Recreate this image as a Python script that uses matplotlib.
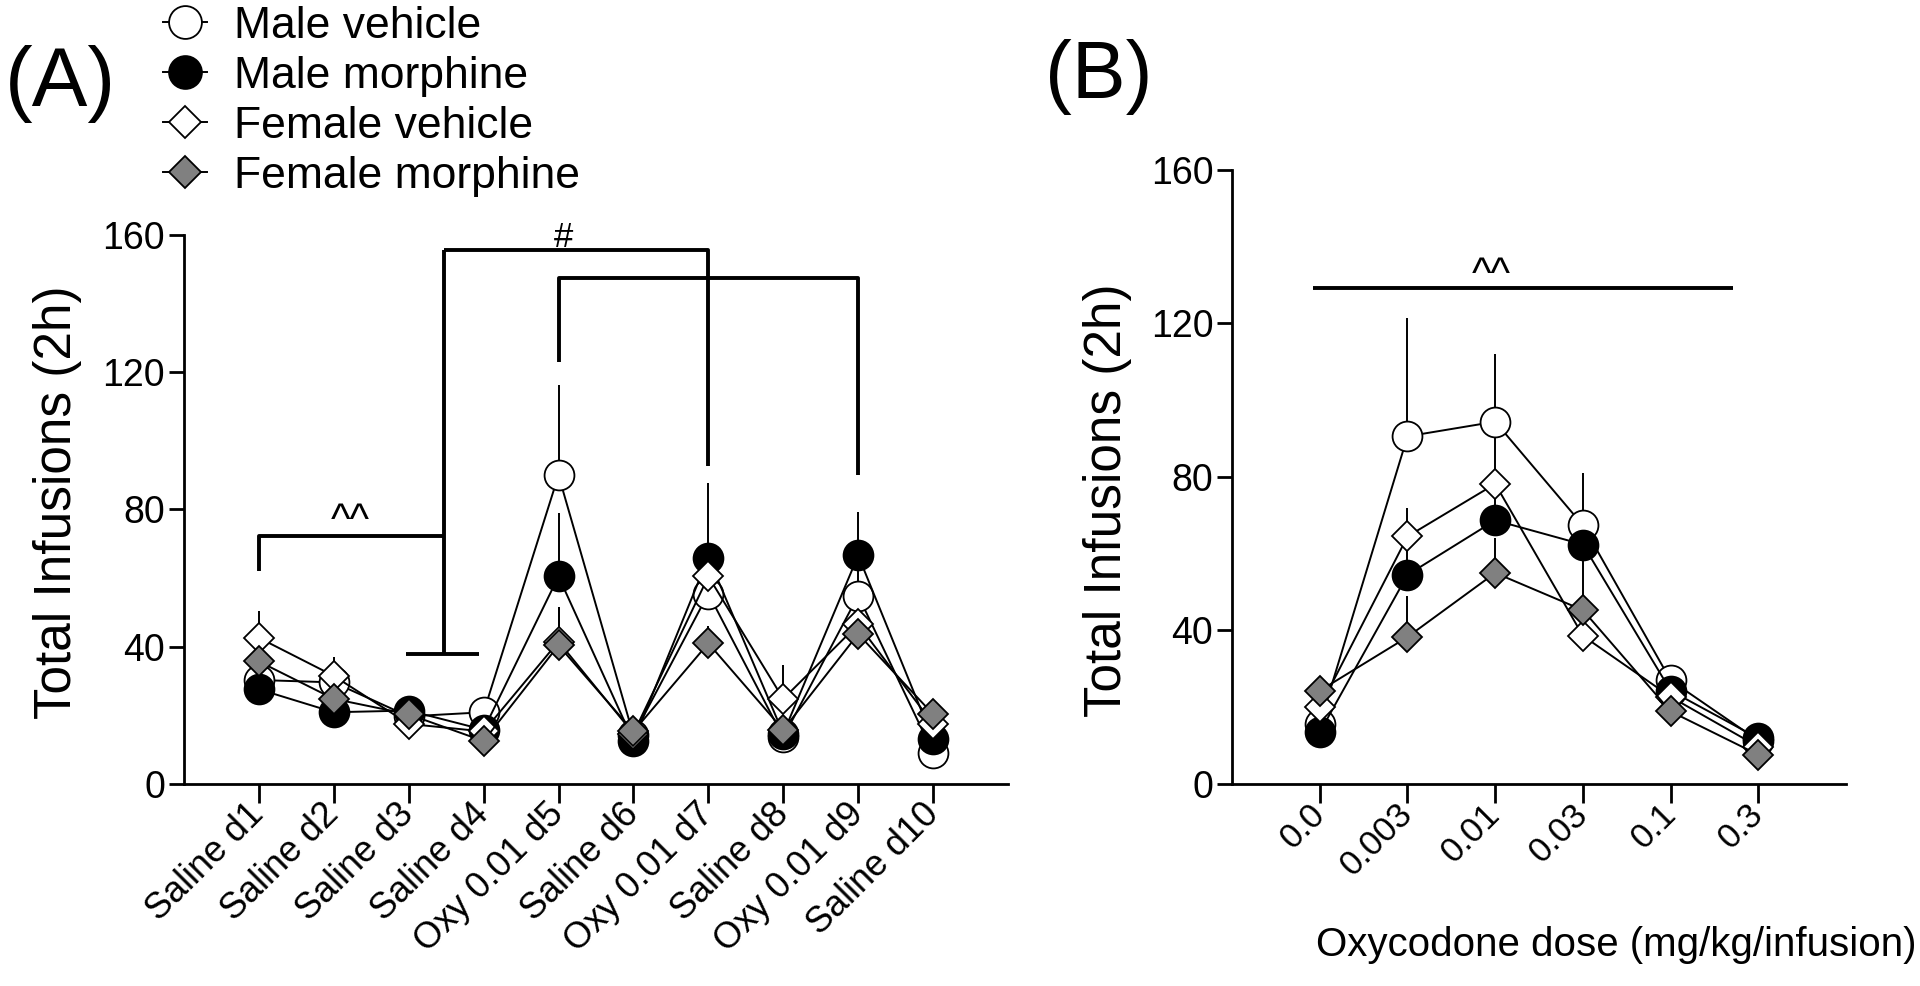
import numpy as np
import matplotlib.pyplot as plt
from matplotlib.lines import Line2D

plt.rcParams['font.family'] = ['Liberation Sans', 'DejaVu Sans']

# --- Panel A: daily sessions ---
sessions = ['Saline d1', 'Saline d2', 'Saline d3', 'Saline d4', 'Oxy 0.01 d5',
            'Saline d6', 'Oxy 0.01 d7', 'Saline d8', 'Oxy 0.01 d9', 'Saline d10']
a_male_veh = [30.3, 29.6, 19.7, 20.9, 90.0, 14.2, 55.5, 13.6, 54.9, 9.1]
a_male_mor = [27.6, 20.9, 21.4, 15.8, 60.5, 12.5, 66.0, 14.7, 66.6, 13.0]
a_fem_veh = [42.6, 31.5, 17.5, 15.3, 41.5, 14.7, 60.5, 24.8, 46.5, 17.5]
a_fem_mor = [35.7, 24.8, 20.3, 12.5, 40.4, 15.3, 41.0, 15.8, 43.7, 20.3]
# SEM (drawn upward only)
a_male_veh_sem = [3, 3, 2, 3.9, 26.3, 2, 8, 3, 10, 2]
a_male_mor_sem = [3, 2, 2.3, 3, 18.5, 2, 21.8, 2, 12.8, 3]
a_fem_veh_sem = [7.8, 5.5, 2, 2, 10, 2, 8, 10, 8, 3]
a_fem_mor_sem = [4, 3, 2, 2, 11.1, 2, 5, 3, 5, 3]

# --- Panel B: dose response ---
doses = ['0.0', '0.003', '0.01', '0.03', '0.1', '0.3']
b_male_veh = [15.6, 90.6, 94.4, 67.4, 27.0, 11.3]
b_male_mor = [13.5, 54.5, 68.7, 62.4, 24.3, 11.9]
b_fem_veh = [20.0, 64.5, 78.2, 38.6, 22.7, 9.7]
b_fem_mor = [24.3, 38.3, 55.0, 45.3, 18.9, 7.6]
b_male_veh_sem = [2, 30.8, 17.6, 13.7, 2, 1]
b_male_mor_sem = [2, 8, 12, 8, 3, 1]
b_fem_veh_sem = [2, 7.5, 15, 5, 2, 1]
b_fem_mor_sem = [2, 10.7, 9, 16, 2, 1]

groups = ['Male vehicle', 'Male morphine', 'Female vehicle', 'Female morphine']
GREY = '#808080'
styles = [
    dict(marker='o', mfc='white', ms=21.5),
    dict(marker='o', mfc='black', ms=21.5),
    dict(marker='D', mfc='white', ms=15),
    dict(marker='D', mfc=GREY, ms=15),
]

YTICK_FS = 27
LW_AXIS = 2.0
LW_DATA = 1.4
LW_BRACKET = 2.8


def draw_group(ax, means, sems, style):
    x = np.arange(len(means))
    sems = np.asarray(sems)
    ax.errorbar(x, means, yerr=[np.zeros_like(sems), sems], color='black',
                lw=LW_DATA, elinewidth=LW_DATA, capsize=0, mec='black',
                mew=1.3, clip_on=False, **style)


def style_axes(ax, n):
    for s in ['top', 'right']:
        ax.spines[s].set_visible(False)
    for s in ['left', 'bottom']:
        ax.spines[s].set_linewidth(LW_AXIS)
    ax.set_xlim(-1, n)
    ax.set_ylim(0, 160)
    ax.set_yticks([0, 40, 80, 120, 160])
    ax.tick_params(axis='y', length=10.5, width=LW_AXIS, pad=3, labelsize=YTICK_FS)
    ax.tick_params(axis='x', length=14, width=LW_AXIS, pad=4)
    ax.set_xticks(np.arange(n))


fig = plt.figure(figsize=(19.2, 9.86), dpi=100)
axA = fig.add_axes([0.0958, 0.2049, 0.4292, 0.5568])
axB = fig.add_axes([0.6417, 0.2049, 0.3198, 0.6227])

# ---- Panel A ----
style_axes(axA, len(sessions))
for m, e, st in zip([a_male_veh, a_male_mor, a_fem_veh, a_fem_mor],
                    [a_male_veh_sem, a_male_mor_sem, a_fem_veh_sem, a_fem_mor_sem],
                    styles):
    draw_group(axA, m, e, st)
axA.set_xticklabels(sessions, rotation=45, ha='right', va='center',
                    rotation_mode='anchor', fontsize=26)
axA.set_ylabel('Total Infusions (2h)', fontsize=37)
axA.yaxis.set_label_coords(-0.124, 0.514)

# significance brackets, panel A
bk = dict(color='black', lw=LW_BRACKET, clip_on=False, solid_capstyle='butt')
axA.plot([0, 0, 2.47], [62.2, 72.4, 72.4], **bk)
axA.plot([2.47, 2.47], [38, 155.5], **bk)
axA.plot([1.96, 2.94], [38, 38], **bk)
axA.plot([2.47, 6.0, 6.0], [155.5, 155.5, 92.8], **bk)
axA.plot([4.0, 4.0, 8.0, 8.0], [123, 147.5, 147.5, 90], **bk)
axA.text(1.22, 73.0, '^^', ha='center', va='baseline', fontsize=30)
axA.text(4.06, 156.5, '#', ha='center', va='baseline', fontsize=25)

# ---- Panel B ----
style_axes(axB, len(doses))
for m, e, st in zip([b_male_veh, b_male_mor, b_fem_veh, b_fem_mor],
                    [b_male_veh_sem, b_male_mor_sem, b_fem_veh_sem, b_fem_mor_sem],
                    styles):
    draw_group(axB, m, e, st)
axB.set_xticklabels(doses, rotation=45, ha='right', va='center',
                    rotation_mode='anchor', fontsize=25)
axB.set_ylabel('Total Infusions (2h)', fontsize=37)
axB.yaxis.set_label_coords(-0.163, 0.4625)
axB.set_xlabel('Oxycodone dose (mg/kg/infusion)', fontsize=29)
axB.xaxis.set_label_coords(0.625, -0.232)
axB.plot([-0.08, 4.71], [129.2, 129.2], **bk)
axB.text(1.95, 129.6, '^^', ha='center', va='baseline', fontsize=30)

# ---- legend & panel labels ----
handles = [Line2D([], [], color='black', lw=LW_DATA, mec='black', mew=1.3,
                  **dict(st, ms=st['ms'] * 1.1)) for st in styles]
fig.legend(handles, groups, loc='upper left', bbox_to_anchor=(0.0849, 0.994),
           frameon=False, fontsize=32, handlelength=1.0, handletextpad=0.6,
           labelspacing=0.2, borderpad=0, borderaxespad=0)
fig.text(60 / 1920, 1 - 84 / 986, '(A)', ha='center', va='center', fontsize=60)
fig.text(1099 / 1920, 1 - 77 / 986, '(B)', ha='center', va='center', fontsize=58)

fig.savefig('out.png', dpi=100)
